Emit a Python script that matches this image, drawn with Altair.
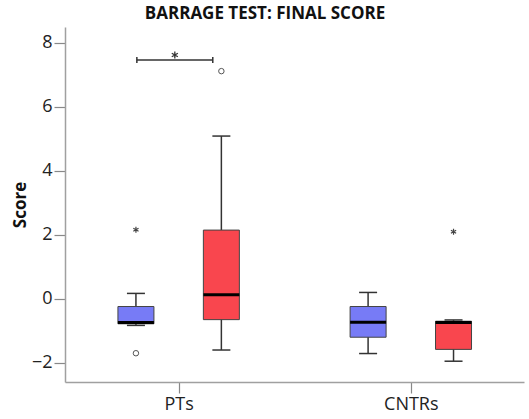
import altair as alt
import pandas as pd

# Box summaries per category and group
box_category = ["PTs", "PTs", "CNTRs", "CNTRs"]
box_group = ["Group 1", "Group 2", "Group 1", "Group 2"]
whisker_low = [-0.83, -1.60, -1.71, -1.95]
quartile_1 = [-0.78, -0.65, -1.20, -1.58]
median = [-0.74, 0.13, -0.73, -0.74]
quartile_3 = [-0.24, 2.15, -0.24, -0.70]
whisker_high = [0.17, 5.09, 0.20, -0.66]

# Individual points outside the whiskers
outlier_category = ["PTs", "PTs", "PTs", "CNTRs"]
outlier_group = ["Group 1", "Group 1", "Group 2", "Group 2"]
outlier_value = [2.16, -1.70, 7.12, 2.10]
outlier_kind = ["extreme", "outlier", "outlier", "extreme"]

# Significance bracket between the two PTs boxes
sig_start = [0.82]
sig_end = [1.147]
sig_level = [7.47]
sig_label = ["*"]

categories = ["PTs", "CNTRs"]
category_index = {c: i + 1 for i, c in enumerate(categories)}
group_shift = {"Group 1": -0.184, "Group 2": 0.184}
group_colors = ["#777BF6", "#F9464E"]

boxes = pd.DataFrame({
    "category": box_category, "group": box_group,
    "lo": whisker_low, "q1": quartile_1, "med": median,
    "q3": quartile_3, "hi": whisker_high,
})
boxes["pos"] = boxes["category"].map(category_index) + boxes["group"].map(group_shift)

outliers = pd.DataFrame({
    "category": outlier_category, "group": outlier_group,
    "value": outlier_value, "kind": outlier_kind,
})
outliers["pos"] = outliers["category"].map(category_index) + outliers["group"].map(group_shift)

bracket = pd.DataFrame({"x1": sig_start, "x2": sig_end, "y": sig_level, "label": sig_label})
bracket["mid"] = (bracket["x1"] + bracket["x2"]) / 2

FONT = "Open Sans"
GRAY = "#a0a0a0"
INK = "#333333"

x_scale = alt.Scale(domain=[0.532, 2.466], nice=False, zero=False)
y_scale = alt.Scale(domain=[-2.6, 8.5], nice=False, zero=False)

x_axis = alt.Axis(
    values=[1, 2], labelExpr="datum.value == 1 ? 'PTs' : 'CNTRs'",
    title=None, grid=False, tickSize=11, labelPadding=2,
)
y_axis = alt.Axis(
    values=[-2, 0, 2, 4, 6, 8], title="Score", grid=False, tickSize=11,
    labelPadding=2, titleX=-45, titleY=177.5, titleBaseline="middle",
    titleAlign="center",
)

base = alt.Chart(boxes)

whisker = base.mark_rule(color=INK, strokeWidth=1.5).encode(
    x=alt.X("pos:Q", scale=x_scale, axis=x_axis),
    y=alt.Y("lo:Q", scale=y_scale, axis=y_axis),
    y2="hi:Q",
)
cap_low = base.mark_tick(orient="horizontal", size=18, thickness=1.5, color=INK, opacity=1).encode(
    x="pos:Q", y="lo:Q")
cap_high = base.mark_tick(orient="horizontal", size=18, thickness=1.5, color=INK, opacity=1).encode(
    x="pos:Q", y="hi:Q")
box = base.mark_bar(size=36, stroke="#444444", strokeWidth=1, opacity=1).encode(
    x="pos:Q", y="q1:Q", y2="q3:Q",
    color=alt.Color("group:N", scale=alt.Scale(domain=["Group 1", "Group 2"], range=group_colors), legend=None),
)
mid = base.mark_tick(orient="horizontal", size=36, thickness=3, color="#000000", opacity=1).encode(
    x="pos:Q", y="med:Q")

circles = alt.Chart(outliers).transform_filter(alt.datum.kind == "outlier").mark_point(
    shape="circle", size=30, filled=False, color="#555555", strokeWidth=1, opacity=1
).encode(x="pos:Q", y="value:Q")

stars = alt.Chart(outliers).transform_filter(alt.datum.kind == "extreme").mark_point(
    shape="M0,-1L0,1M-0.87,-0.5L0.87,0.5M-0.87,0.5L0.87,-0.5",
    size=36, filled=False, color="#444444", strokeWidth=1.2, opacity=1
).encode(x="pos:Q", y="value:Q")

sig_line = alt.Chart(bracket).mark_rule(color=INK, strokeWidth=1.5).encode(
    x="x1:Q", x2="x2:Q", y="y:Q")
sig_end_l = alt.Chart(bracket).mark_tick(orient="vertical", size=6, thickness=1.5, color=INK, opacity=1).encode(
    x="x1:Q", y="y:Q")
sig_end_r = alt.Chart(bracket).mark_tick(orient="vertical", size=6, thickness=1.5, color=INK, opacity=1).encode(
    x="x2:Q", y="y:Q")
sig_star = alt.Chart(bracket).mark_point(
    shape="M0,-1L0,1M-0.87,-0.5L0.87,0.5M-0.87,0.5L0.87,-0.5",
    size=49, filled=False, color=INK, strokeWidth=1.3, opacity=1, yOffset=-5
).encode(x="mid:Q", y="y:Q")

chart = alt.layer(
    whisker, cap_low, cap_high, box, mid, circles, stars,
    sig_line, sig_end_l, sig_end_r, sig_star,
).properties(
    width=459, height=355,
    autosize=alt.AutoSizeParams(type="none"),
    padding={"left": 65, "top": 27, "right": 5, "bottom": 37},
    title=alt.TitleParams(
        "BARRAGE TEST: FINAL SCORE", font=FONT, fontSize=17, fontWeight="bold",
        color="#111111", anchor="middle", dx=-29.5, offset=4,
    ),
).configure_view(stroke=None).configure_axis(
    domainColor=GRAY, domainWidth=1.5, tickColor="#888888", tickWidth=1.2,
    labelFont=FONT, labelFontSize=18, labelColor="#222222",
    titleFont=FONT, titleFontSize=17, titleFontWeight="bold", titleColor="#111111",
)

chart.save("out.html", embed_options={"renderer": "svg", "actions": False})
